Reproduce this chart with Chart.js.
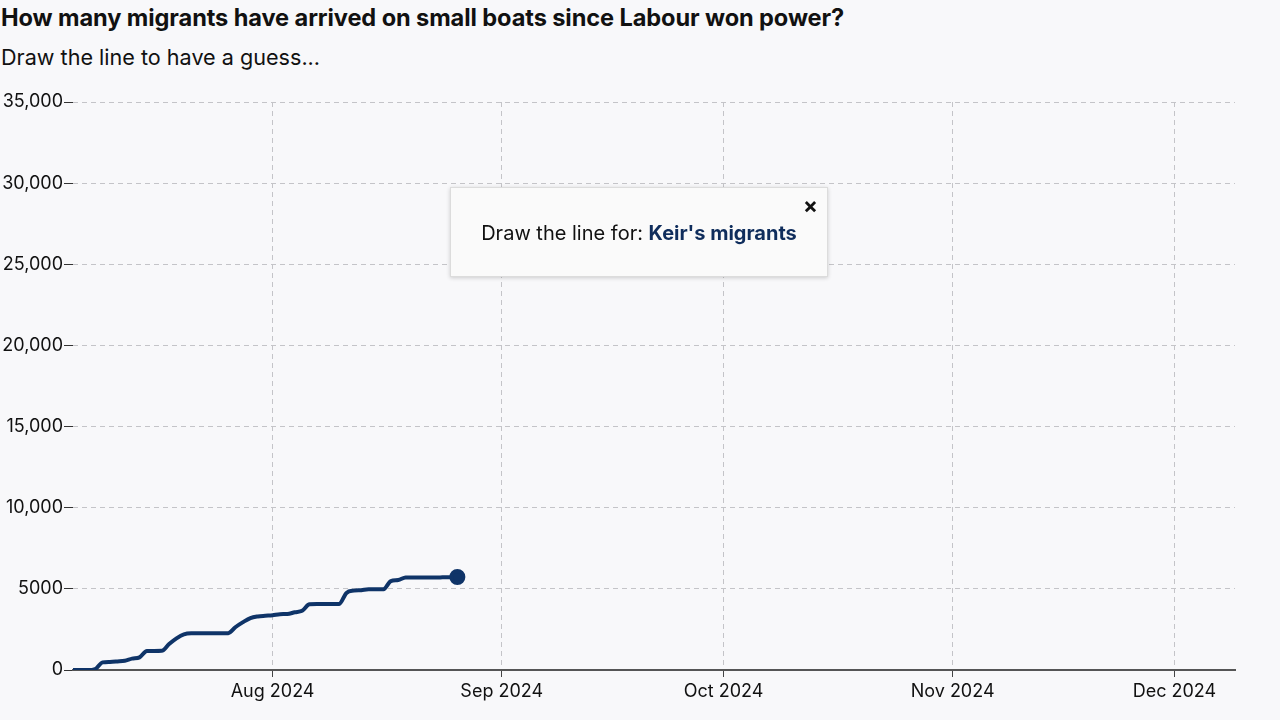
<!DOCTYPE html>
<html>
<head>
<meta charset="utf-8">
<script src="https://cdn.jsdelivr.net/npm/chart.js@4.4.1/dist/chart.umd.min.js"></script>
<style>
  html, body { margin: 0; padding: 0; background: #f8f8fa; font-family: Inter, sans-serif; color: #111; }
  #wrap { position: relative; width: 1280px; height: 720px; overflow: hidden; }
  h1 { position: absolute; left: 1px; top: 3px; margin: 0; font-size: 23.6px; font-weight: 700; letter-spacing: -0.1px; }
  .sub { position: absolute; left: 1px; top: 44px; margin: 0; font-size: 21.6px; }
  #popup {
    position: absolute; left: 450px; top: 187px; width: 376px; height: 88px;
    background: #fafafa; border: 1px solid #dcdcdc; box-shadow: 0 1px 4px rgba(0,0,0,0.18);
    font-size: 20px; text-align: center; line-height: 90px;
  }
  #popup b { color: #0f2d5c; }
  #popup .x { position: absolute; right: 9px; top: 6px; line-height: 22px; font-size: 22px; font-weight: 700; }
</style>
</head>
<body>
<div id="wrap">
  <h1>How many migrants have arrived on small boats since Labour won power?</h1>
  <p class="sub">Draw the line to have a guess...</p>
  <canvas id="lineChart" style="position:absolute;left:0;top:80px;" width="1280" height="640"></canvas>
  <div id="popup">Draw the line for: <b>Keir's migrants</b><span class="x">×</span></div>
</div>
<script>
// cumulative small boat arrivals, one value per day starting 5 Jul 2024
const arrivals = [
  0, 0, 0, 60, 470, 500, 530, 570, 700, 780,          // Jul 5 - Jul 14
  1170, 1170, 1180, 1600, 1950, 2200, 2260, 2260,     // Jul 15 - Jul 22
  2260, 2260, 2260, 2270, 2650, 2950, 3200, 3300,     // Jul 23 - Jul 30
  3340, 3370, 3440, 3450, 3560, 3650, 4050, 4060,     // Jul 31 - Aug 7
  4060, 4060, 4070, 4750, 4890, 4920, 4970, 4970,     // Aug 8 - Aug 15
  4980, 5480, 5540, 5700, 5700, 5700, 5700, 5700,     // Aug 16 - Aug 23
  5710, 5720, 5730                                    // Aug 24 - Aug 26
];

// x axis runs in days from 5 Jul 2024
const axisEndDay = 157.2;
const monthTicks = [27, 58, 88, 119, 149];
const monthLabels = ['Aug 2024', 'Sep 2024', 'Oct 2024', 'Nov 2024', 'Dec 2024'];

const yTicks = [0, 5000, 10000, 15000, 20000, 25000, 30000, 35000];
const yLabels = ['0', '5000', '10,000', '15,000', '20,000', '25,000', '30,000', '35,000'];

const navy = '#0f3468';
const last = arrivals.length - 1;

new Chart(document.getElementById('lineChart'), {
  type: 'line',
  data: {
    datasets: [{
      data: arrivals.map((v, i) => ({ x: i, y: v })),
      borderColor: navy,
      backgroundColor: navy,
      borderWidth: 4,
      cubicInterpolationMode: 'monotone',
      pointRadius: c => c.dataIndex === last ? 6 : 0,
      pointHoverRadius: c => c.dataIndex === last ? 6 : 0
    }]
  },
  options: {
    responsive: false,
    animation: false,
    layout: { padding: { top: 22, right: 45, bottom: 0, left: 0 } },
    plugins: { legend: { display: false }, tooltip: { enabled: false } },
    scales: {
      x: {
        type: 'linear',
        min: 0,
        max: axisEndDay,
        afterBuildTicks: s => { s.ticks = monthTicks.map(v => ({ value: v })); },
        afterFit: s => { s.height = 50; },
        grid: { color: '#c4c4c8', tickColor: '#444', tickLength: 7, lineWidth: 1 },
        border: { display: true, color: '#555', width: 2, dash: [5, 4] },
        ticks: {
          color: '#111',
          padding: 4,
          maxRotation: 0,
          font: { family: 'Inter', size: 18 },
          callback: (v, i) => monthLabels[i]
        }
      },
      y: {
        min: 0,
        max: 35000,
        afterBuildTicks: s => { s.ticks = yTicks.map(v => ({ value: v })); },
        afterFit: s => { s.width = 73; },
        grid: { color: '#c4c4c8', tickColor: '#333', tickLength: 9, lineWidth: 1 },
        border: { display: false, dash: [5, 4] },
        ticks: {
          color: '#111',
          padding: 1,
          font: { family: 'Inter', size: 18 },
          callback: (v, i) => yLabels[i]
        }
      }
    }
  }
});
</script>
</body>
</html>
